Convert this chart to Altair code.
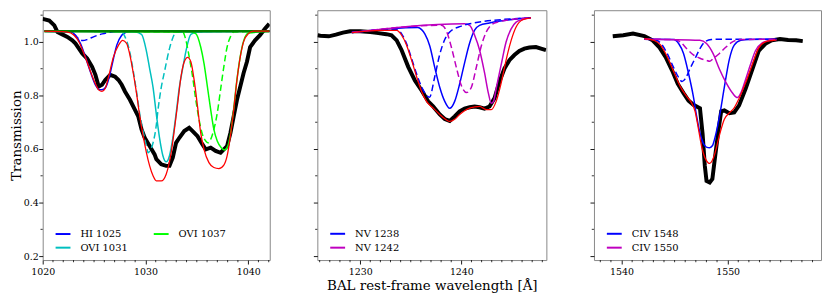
import altair as alt
import pandas as pd

FONT = "DejaVu Serif"
H = 252
Y_DOMAIN = [0.1852, 1.1185]
Y_TICKS = [0.2, 0.4, 0.6, 0.8, 1.0]
Y_MINOR = [0.3, 0.5, 0.7, 0.9, 1.1]

# ---------------- Panel 1 : HI / OVI ----------------
P1_X_DOMAIN = [1020.0, 1042.1]
P1_X_TICKS = [1020, 1030, 1040]
P1_X_MINOR = [1021, 1022, 1023, 1024, 1025, 1026, 1027, 1028, 1029, 1031, 1032, 1033,
              1034, 1035, 1036, 1037, 1038, 1039, 1041, 1042]

P1_DATA_LAM = [1020.0, 1020.64, 1021.13, 1021.44, 1021.76, 1022.40, 1022.88, 1023.20, 1023.53, 1023.85,
               1024.33, 1024.81, 1025.13, 1025.45, 1025.77, 1026.09, 1026.57, 1027.05, 1027.38, 1027.69,
               1028.01, 1028.49, 1028.97, 1029.30, 1029.62, 1029.93, 1030.41, 1030.89, 1031.06, 1031.54,
               1032.02, 1032.34, 1032.66, 1032.98, 1033.30, 1033.78, 1034.26, 1034.59, 1035.07, 1035.55,
               1035.87, 1036.35, 1036.83, 1037.31, 1037.63, 1037.95, 1038.27, 1038.59, 1038.91, 1039.23,
               1039.55, 1039.88, 1040.19, 1040.67, 1041.15, 1041.63, 1042.05]
P1_DATA_T = [1.086, 1.080, 1.062, 1.037, 1.031, 1.019, 1.006, 0.994, 0.975, 0.957,
             0.938, 0.907, 0.877, 0.833, 0.840, 0.858, 0.877, 0.870, 0.858, 0.840,
             0.815, 0.784, 0.747, 0.722, 0.673, 0.642, 0.611, 0.580, 0.562, 0.543,
             0.537, 0.537, 0.568, 0.623, 0.642, 0.667, 0.679, 0.667, 0.648, 0.617,
             0.599, 0.605, 0.593, 0.586, 0.599, 0.611, 0.660, 0.722, 0.784, 0.833,
             0.883, 0.926, 0.981, 1.006, 1.025, 1.049, 1.068]

P1_MODEL_LAM = [1020.16, 1022.40, 1023.05, 1023.53, 1024.01, 1024.49, 1024.97, 1025.45, 1025.77, 1026.09,
                1026.41, 1026.89, 1027.38, 1027.79, 1028.17, 1028.49, 1028.82, 1029.13, 1029.45, 1029.78,
                1030.10, 1030.41, 1030.74, 1031.06, 1031.54, 1032.02, 1032.50, 1032.82, 1033.14, 1033.46,
                1033.78, 1034.11, 1034.42, 1034.74, 1035.07, 1035.38, 1035.70, 1036.18, 1036.66, 1037.14,
                1037.63, 1037.95, 1038.27, 1038.59, 1038.91, 1039.23, 1039.55, 1040.03, 1040.51, 1042.1]
P1_MODEL_T = [1.040, 1.037, 1.025, 1.000, 0.957, 0.907, 0.858, 0.821, 0.815, 0.827,
              0.870, 0.944, 0.988, 1.006, 0.994, 0.951, 0.883, 0.809, 0.722, 0.648,
              0.586, 0.537, 0.500, 0.481, 0.481, 0.506, 0.586, 0.673, 0.771, 0.870,
              0.926, 0.942, 0.926, 0.858, 0.759, 0.660, 0.599, 0.549, 0.531, 0.527,
              0.540, 0.574, 0.648, 0.747, 0.858, 0.944, 1.000, 1.031, 1.040, 1.040]

P1_HI_LAM = [1020.16, 1022.72, 1023.20, 1023.68, 1024.16, 1024.64, 1025.13, 1025.61, 1025.93, 1026.25,
             1026.57, 1026.89, 1027.21, 1027.69, 1028.17, 1028.65, 1042.1]
P1_HI_T = [1.040, 1.037, 1.025, 0.994, 0.944, 0.889, 0.840, 0.821, 0.823, 0.840,
           0.883, 0.938, 0.988, 1.025, 1.037, 1.040, 1.040]
P1_HI_D_LAM = [1020.16, 1022.4, 1022.9, 1023.4, 1023.9, 1024.4, 1025.0, 1025.8, 1026.6, 1027.5, 1042.1]
P1_HI_D_T = [1.040, 1.039, 1.033, 1.015, 1.005, 1.010, 1.020, 1.030, 1.037, 1.040, 1.040]

P1_O1031_LAM = [1020.16, 1028.97, 1029.62, 1030.10, 1030.41, 1030.74, 1031.06, 1031.38, 1031.70, 1032.02,
                1032.34, 1032.66, 1032.98, 1033.30, 1033.62, 1033.94, 1034.42, 1035.07, 1042.1]
P1_O1031_T = [1.040, 1.037, 1.028, 0.965, 0.900, 0.830, 0.730, 0.640, 0.575, 0.552,
              0.575, 0.640, 0.730, 0.830, 0.900, 0.965, 1.028, 1.037, 1.040]
P1_O1031_D_LAM = [1020.16, 1027.6, 1028.0, 1028.49, 1028.82, 1029.13, 1029.45, 1029.78, 1030.10, 1030.26,
                  1030.42, 1030.74, 1031.06, 1031.22, 1031.54, 1031.86, 1032.34, 1032.66, 1032.98, 1042.1]
P1_O1031_D_T = [1.040, 1.040, 1.020, 0.960, 0.890, 0.815, 0.730, 0.665, 0.610, 0.586,
                0.592, 0.623, 0.690, 0.745, 0.830, 0.890, 0.975, 1.015, 1.037, 1.040]

P1_O1037_LAM = [1020.16, 1034.42, 1034.90, 1035.38, 1035.70, 1036.03, 1036.35, 1036.66, 1036.99, 1037.38,
                1037.69, 1038.01, 1038.27, 1038.59, 1038.91, 1039.23, 1039.55, 1040.03, 1042.1]
P1_O1037_T = [1.040, 1.037, 1.031, 0.981, 0.920, 0.833, 0.747, 0.673, 0.630, 0.605,
              0.596, 0.611, 0.655, 0.750, 0.860, 0.946, 1.003, 1.033, 1.040]
P1_O1037_D_LAM = [1020.16, 1033.63, 1033.94, 1034.26, 1034.59, 1034.90, 1035.22, 1035.55, 1035.87, 1036.09,
                  1036.35, 1036.66, 1036.99, 1037.31, 1037.63, 1037.95, 1038.27, 1038.59, 1042.1]
P1_O1037_D_T = [1.040, 1.037, 1.006, 0.944, 0.870, 0.784, 0.710, 0.654, 0.630, 0.623,
                0.636, 0.673, 0.734, 0.821, 0.907, 0.981, 1.019, 1.037, 1.040]

P1_CONT_LAM = [1020.16, 1042.1]
P1_CONT_T = [1.040, 1.040]

P1_NAMES = ["HI 1025", "OVI 1031", "OVI 1037"]
P1_COLORS = ["#0000ff", "#00bfbf", "#00ff00"]

# ---------------- Panel 2 : NV ----------------
P2_X_DOMAIN = [1225.77, 1248.4]
P2_X_TICKS = [1230, 1240]
P2_X_MINOR = [1226, 1227, 1228, 1229, 1231, 1232, 1233, 1234, 1235, 1236, 1237, 1238, 1239,
              1241, 1242, 1243, 1244, 1245, 1246, 1247, 1248]

P2_DATA_LAM = [1225.8, 1226.07, 1226.9, 1227.6, 1228.3, 1229.0, 1230.0, 1231.0, 1231.8, 1232.6,
               1233.1, 1233.61, 1234.10, 1234.75, 1235.41, 1236.07, 1236.72, 1237.21, 1237.87, 1238.36,
               1238.85, 1239.34, 1239.83, 1240.32, 1240.82, 1241.31, 1241.80, 1242.29, 1242.78, 1243.28,
               1243.77, 1244.26, 1244.75, 1245.24, 1245.73, 1246.22, 1246.72, 1247.37, 1247.87, 1248.36]
P2_DATA_T = [1.025, 1.023, 1.021, 1.027, 1.035, 1.040, 1.040, 1.037, 1.033, 1.029,
             1.025, 1.006, 0.969, 0.907, 0.856, 0.819, 0.778, 0.759, 0.729, 0.712,
             0.705, 0.722, 0.741, 0.751, 0.756, 0.759, 0.756, 0.751, 0.759, 0.790,
             0.852, 0.901, 0.932, 0.951, 0.966, 0.975, 0.979, 0.981, 0.975, 0.969]

P2_MODEL_LAM = [1229.18, 1232.13, 1233.61, 1234.10, 1234.59, 1235.08, 1235.58, 1236.07, 1236.56, 1237.21,
                1237.87, 1238.36, 1238.85, 1239.34, 1239.83, 1240.32, 1240.82, 1241.31, 1241.80, 1242.46,
                1242.95, 1243.44, 1243.93, 1244.42, 1244.92, 1245.41, 1246.06, 1246.88]
P2_MODEL_T = [1.035, 1.043, 1.043, 1.025, 0.988, 0.932, 0.870, 0.815, 0.778, 0.753,
              0.729, 0.713, 0.703, 0.711, 0.729, 0.743, 0.753, 0.757, 0.759, 0.747,
              0.747, 0.778, 0.846, 0.932, 1.006, 1.056, 1.083, 1.090]

P2_N1238_LAM = [1229.18, 1235.7, 1236.07, 1236.39, 1236.88, 1237.37, 1237.87, 1238.36, 1238.85, 1239.34,
                1239.83, 1240.32, 1240.82, 1241.31, 1241.80, 1242.78, 1246.88]
P2_N1238_T = [1.035, 1.054, 1.046, 1.030, 0.985, 0.905, 0.830, 0.778, 0.752, 0.778,
              0.843, 0.922, 0.996, 1.044, 1.062, 1.071, 1.090]
P2_N1238_D_LAM = [1229.18, 1233.61, 1234.10, 1234.59, 1235.08, 1235.58, 1236.07, 1236.5, 1236.85, 1237.37,
                  1237.87, 1238.36, 1238.85, 1239.83, 1240.82, 1246.88]
P2_N1238_D_T = [1.035, 1.047, 1.030, 0.993, 0.938, 0.880, 0.832, 0.803, 0.793, 0.870,
                0.954, 1.009, 1.037, 1.057, 1.068, 1.090]

P2_N1242_LAM = [1229.18, 1240.3, 1240.82, 1241.31, 1241.80, 1242.29, 1242.68, 1242.95, 1243.18, 1243.44,
                1243.93, 1244.42, 1244.92, 1245.41, 1246.06, 1246.88]
P2_N1242_T = [1.035, 1.068, 1.062, 1.025, 0.970, 0.885, 0.807, 0.771, 0.778, 0.826,
              0.914, 1.000, 1.049, 1.074, 1.084, 1.090]
P2_N1242_D_LAM = [1229.18, 1238.03, 1238.52, 1239.01, 1239.51, 1240.00, 1240.52, 1240.98, 1241.47, 1241.97,
                  1242.46, 1242.95, 1243.57, 1246.88]
P2_N1242_D_T = [1.035, 1.062, 1.041, 0.981, 0.904, 0.837, 0.811, 0.830, 0.904, 0.985,
                1.037, 1.063, 1.074, 1.090]

P2_NAMES = ["NV 1238", "NV 1242"]
P2_COLORS = ["#0000ff", "#bf00bf"]

# ---------------- Panel 3 : CIV ----------------
P3_X_DOMAIN = [1537.4, 1558.8]
P3_X_TICKS = [1540, 1550]
P3_X_MINOR = [1538, 1539, 1541, 1542, 1543, 1544, 1545, 1546, 1547, 1548, 1549,
              1551, 1552, 1553, 1554, 1555, 1556, 1557, 1558]

P3_DATA_LAM = [1539.17, 1540.16, 1541.08, 1542.15, 1542.93, 1543.54, 1544.16, 1544.77, 1545.29, 1545.84,
               1546.31, 1546.77, 1547.08, 1547.39, 1547.64, 1547.85, 1548.01, 1548.31, 1548.56, 1548.77,
               1549.08, 1549.39, 1549.69, 1550.16, 1550.62, 1551.08, 1551.70, 1552.31, 1552.93, 1553.55,
               1554.16, 1554.93, 1555.70, 1556.46, 1557.08]
P3_DATA_T = [1.021, 1.025, 1.031, 1.022, 1.006, 0.981, 0.943, 0.893, 0.844, 0.809,
             0.781, 0.765, 0.759, 0.752, 0.656, 0.537, 0.481, 0.475, 0.488, 0.556,
             0.654, 0.741, 0.744, 0.734, 0.737, 0.763, 0.826, 0.896, 0.967, 0.993,
             1.006, 1.011, 1.007, 1.006, 1.003]

P3_MODEL_LAM = [1542.15, 1543.07, 1543.69, 1544.31, 1544.92, 1545.54, 1546.16, 1546.62, 1546.93, 1547.23,
                1547.54, 1547.85, 1548.15, 1548.31, 1548.54, 1548.77, 1549.23, 1549.69, 1550.16, 1550.62,
                1551.08, 1551.70, 1552.31, 1552.93, 1553.55, 1554.31, 1554.6]
P3_MODEL_T = [1.012, 1.006, 0.988, 0.944, 0.889, 0.833, 0.796, 0.771, 0.741, 0.679,
              0.611, 0.568, 0.549, 0.546, 0.556, 0.580, 0.652, 0.711, 0.735, 0.754,
              0.789, 0.848, 0.914, 0.978, 1.000, 1.006, 1.008]

P3_C1548_LAM = [1542.15, 1544.92, 1545.38, 1545.84, 1546.31, 1546.77, 1547.08, 1547.39, 1547.69, 1547.99,
                1548.31, 1548.58, 1548.77, 1549.23, 1549.69, 1550.16, 1550.62, 1551.24, 1552.0, 1554.6]
P3_C1548_T = [1.010, 1.009, 0.994, 0.957, 0.883, 0.796, 0.722, 0.660, 0.623, 0.607,
              0.605, 0.613, 0.637, 0.722, 0.831, 0.935, 0.988, 1.006, 1.009, 1.010]
P3_C1548_D_LAM = [1542.15, 1543.1, 1543.7, 1544.3, 1544.9, 1545.4, 1545.7, 1546.0, 1546.46, 1546.93,
                  1547.39, 1547.85, 1548.47, 1549.54, 1554.6]
P3_C1548_D_T = [1.010, 1.008, 0.995, 0.957, 0.905, 0.866, 0.852, 0.862, 0.901, 0.938,
                0.975, 1.000, 1.009, 1.010, 1.010]

P3_C1550_LAM = [1542.15, 1547.39, 1548.01, 1548.62, 1549.23, 1549.85, 1550.46, 1550.92, 1551.24, 1551.70,
                1552.16, 1552.62, 1553.23, 1554.01, 1554.6]
P3_C1550_T = [1.010, 1.006, 0.994, 0.957, 0.898, 0.848, 0.809, 0.792, 0.809, 0.861,
              0.917, 0.967, 0.996, 1.006, 1.008]
P3_C1550_D_LAM = [1542.15, 1544.9, 1545.54, 1546.16, 1546.77, 1547.39, 1548.01, 1548.31, 1548.62, 1549.23,
                  1549.85, 1550.46, 1551.24, 1554.6]
P3_C1550_D_T = [1.010, 1.009, 1.000, 0.974, 0.952, 0.939, 0.931, 0.928, 0.937, 0.957,
                0.981, 1.000, 1.009, 1.010]

P3_NAMES = ["CIV 1548", "CIV 1550"]
P3_COLORS = ["#0000ff", "#bf00bf"]


def tbl(pairs):
    frames = []
    for name, lam, t in pairs:
        if len(lam) != len(t):
            raise ValueError(f"length mismatch in {name}: {len(lam)} vs {len(t)}")
        frames.append(pd.DataFrame({"lam": lam, "T": t, "name": name}))
    return pd.concat(frames, ignore_index=True)


AXIS_STYLE = dict(labelFont=FONT, labelFontSize=9.5, labelColor="black",
                  titleFont=FONT, titleFontSize=13.5, titleFontWeight="normal", titleColor="black",
                  tickColor="black", tickWidth=0.9, tickSize=4, domain=False, grid=False)


def build_panel(xdom, xticks, xminor, width, ylabels, ytitle, xtitle,
                data, model, solids, dashed, cont, names, colors, ncols):
    xaxis_kw = dict(values=xticks, format="d", labelPadding=3, labelFlush=False, **AXIS_STYLE)
    if xtitle:
        xaxis_kw["title"] = xtitle
        xaxis_kw["titlePadding"] = 2
    else:
        xaxis_kw["title"] = None
    yaxis_kw = dict(values=Y_TICKS, format=".1f", labels=ylabels, labelPadding=0.5, **AXIS_STYLE)
    if ytitle:
        yaxis_kw["title"] = ytitle
        yaxis_kw["titlePadding"] = 0
    else:
        yaxis_kw["title"] = None
    X = alt.X("lam:Q", scale=alt.Scale(domain=xdom, nice=False, zero=False), axis=alt.Axis(**xaxis_kw))
    Y = alt.Y("T:Q", scale=alt.Scale(domain=Y_DOMAIN, nice=False, zero=False), axis=alt.Axis(**yaxis_kw))
    cscale = alt.Scale(domain=names, range=colors)
    legend = alt.Legend(title=None, orient="none", legendX=12, legendY=217,
                        symbolType="stroke", symbolSize=225, symbolStrokeWidth=2,
                        labelFont=FONT, labelFontSize=10, labelColor="black",
                        labelOffset=9, rowPadding=0, columnPadding=22, padding=0,
                        columns=ncols)

    layers = [
        alt.Chart(data).mark_line(color="black", strokeWidth=4, clip=True).encode(x=X, y=Y),
        alt.Chart(solids).mark_line(strokeWidth=1.5, interpolate="monotone", clip=True).encode(
            x=X, y=Y, color=alt.Color("name:N", scale=cscale, legend=legend)),
        alt.Chart(dashed).mark_line(strokeWidth=1.5, strokeDash=[6.5, 3.5], interpolate="monotone",
                                    clip=True).encode(
            x=X, y=Y, color=alt.Color("name:N", scale=cscale, legend=None)),
    ]
    if cont is not None:
        layers.append(alt.Chart(cont).mark_line(color="#008000", strokeWidth=2.5, clip=True).encode(x=X, y=Y))
    layers.append(alt.Chart(model).mark_line(color="#ff0000", strokeWidth=1.3,
                                             interpolate="monotone", clip=True).encode(x=X, y=Y))
    layers.append(alt.Chart(pd.DataFrame({"lam": xminor})).mark_rule(color="black", strokeWidth=0.8).encode(
        x=X, y=alt.value(H), y2=alt.value(H + 2.2)))
    layers.append(alt.Chart(pd.DataFrame({"T": Y_MINOR})).mark_rule(color="black", strokeWidth=0.8).encode(
        y=Y, x=alt.value(0), x2=alt.value(-2.2)))
    return alt.layer(*layers).properties(width=width, height=H)


p1 = build_panel(
    P1_X_DOMAIN, P1_X_TICKS, P1_X_MINOR, 229, True, "Transmission", None,
    tbl([("data", P1_DATA_LAM, P1_DATA_T)]),
    tbl([("model", P1_MODEL_LAM, P1_MODEL_T)]),
    tbl([("HI 1025", P1_HI_LAM, P1_HI_T), ("OVI 1031", P1_O1031_LAM, P1_O1031_T),
         ("OVI 1037", P1_O1037_LAM, P1_O1037_T)]),
    tbl([("HI 1025", P1_HI_D_LAM, P1_HI_D_T), ("OVI 1031", P1_O1031_D_LAM, P1_O1031_D_T),
         ("OVI 1037", P1_O1037_D_LAM, P1_O1037_D_T)]),
    tbl([("cont", P1_CONT_LAM, P1_CONT_T)]),
    P1_NAMES, P1_COLORS, 2)

p2 = build_panel(
    P2_X_DOMAIN, P2_X_TICKS, P2_X_MINOR, 231, False, None, "BAL rest-frame wavelength [Å]",
    tbl([("data", P2_DATA_LAM, P2_DATA_T)]),
    tbl([("model", P2_MODEL_LAM, P2_MODEL_T)]),
    tbl([("NV 1238", P2_N1238_LAM, P2_N1238_T), ("NV 1242", P2_N1242_LAM, P2_N1242_T)]),
    tbl([("NV 1238", P2_N1238_D_LAM, P2_N1238_D_T), ("NV 1242", P2_N1242_D_LAM, P2_N1242_D_T)]),
    None, P2_NAMES, P2_COLORS, 1)

p3 = build_panel(
    P3_X_DOMAIN, P3_X_TICKS, P3_X_MINOR, 229, False, None, None,
    tbl([("data", P3_DATA_LAM, P3_DATA_T)]),
    tbl([("model", P3_MODEL_LAM, P3_MODEL_T)]),
    tbl([("CIV 1548", P3_C1548_LAM, P3_C1548_T), ("CIV 1550", P3_C1550_LAM, P3_C1550_T)]),
    tbl([("CIV 1548", P3_C1548_D_LAM, P3_C1548_D_T), ("CIV 1550", P3_C1550_D_LAM, P3_C1550_D_T)]),
    None, P3_NAMES, P3_COLORS, 1)

chart = (
    alt.hconcat(p1, p2, p3, spacing=42)
    .resolve_scale(x="independent", y="independent", color="independent")
    .resolve_legend(color="independent")
    .properties(padding={"left": 0, "top": 0, "right": 0, "bottom": 0}, background="white")
    .configure_view(stroke="#888888", strokeWidth=1)
)

chart.save("out.html", embed_options={"renderer": "svg", "actions": False})
